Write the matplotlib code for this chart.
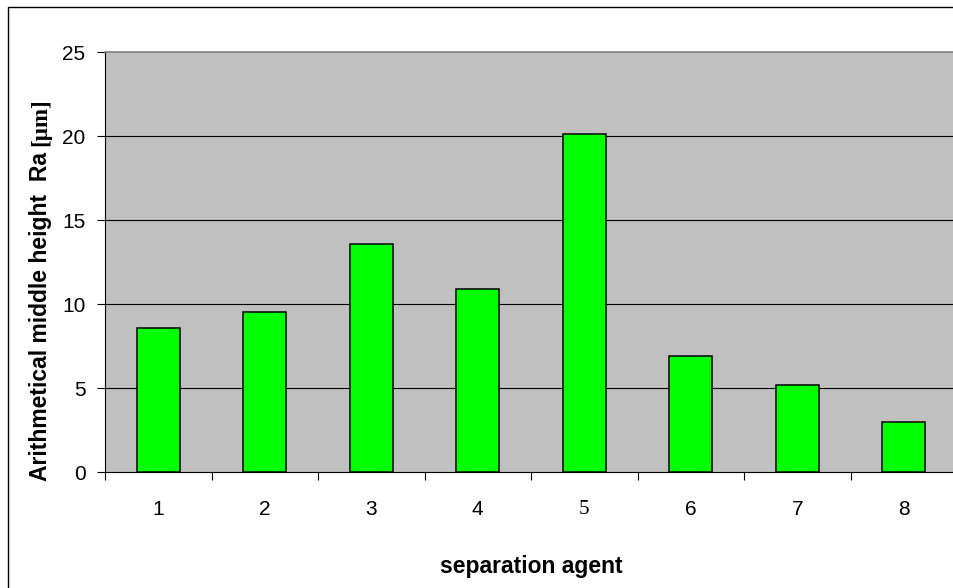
import matplotlib
matplotlib.use("Agg")
import matplotlib.pyplot as plt
from matplotlib.patches import Rectangle
from matplotlib.ticker import FixedLocator, NullFormatter

categories = ["1", "2", "3", "4", "5", "6", "7", "8"]
values = [8.6, 9.5, 13.6, 10.9, 20.1, 6.9, 5.2, 3.0]
yticks = [0, 5, 10, 15, 20, 25]

W, H = 954, 588
fig = plt.figure(figsize=(W / 100, H / 100), dpi=100)
plt.rcParams['font.family'] = ['Liberation Sans', 'DejaVu Sans']

# outer chart border (cropped on right/bottom)
fig.patches.append(Rectangle((8 / W, -0.2), 1.5, (H - 7) / H + 0.2,
                             transform=fig.transFigure, fill=False,
                             edgecolor='black', linewidth=1.0))

left, right, top, bottom = 105, 957, 52, 472
ax = fig.add_axes([left / W, (H - bottom) / H, (right - left) / W, (bottom - top) / H])
ax.set_facecolor('#C0C0C0')

x = list(range(1, len(categories) + 1))
ax.bar(x, values, width=0.4, color='#00FF00', edgecolor='black', linewidth=1.1, zorder=3)

ax.set_xlim(0.5, len(categories) + 0.5)
ax.set_ylim(0, 25)
ax.set_yticks(yticks)
ax.set_yticklabels([str(v) for v in yticks], fontsize=15)
for v in yticks[1:-1]:
    ax.axhline(v, color='black', linewidth=0.8, zorder=1)

ax.set_xticks(x)
ax.set_xticklabels(categories, fontsize=15)
ax.xaxis.set_minor_locator(FixedLocator([i + 0.5 for i in range(0, len(categories) + 1)]))
ax.xaxis.set_minor_formatter(NullFormatter())
ax.tick_params(axis='x', which='major', length=0, pad=20.5)
ax.tick_params(axis='x', which='minor', length=6, width=0.8, color='black', direction='out')
ax.tick_params(axis='y', length=6, width=0.8, color='black', pad=8)
ax.get_xticklabels()[4].set_fontfamily('Liberation Serif')

ax.spines['right'].set_visible(False)
ax.spines['top'].set_color('#808080')
ax.spines['top'].set_linewidth(1.2)
for s in ['left', 'bottom']:
    ax.spines[s].set_color('black')
    ax.spines[s].set_linewidth(0.8)

fig.text(531 / W, 1 - 567 / H, 'separation agent', fontsize=16.5,
         fontweight='bold', ha='center', va='center')

t1 = fig.text(41 / W, 1 - 481 / H, 'Arithmetical middle height  Ra ', fontsize=16.5,
              fontweight='bold', rotation=90, ha='center', va='bottom')
ann = ax.annotate('[µm]', xy=(0.5, 1.0), xycoords=t1, fontsize=16.5, fontweight='bold',
                  family='Liberation Serif', rotation=90, ha='center', va='bottom',
                  annotation_clip=False)

fig.savefig('out.png', dpi=100)
